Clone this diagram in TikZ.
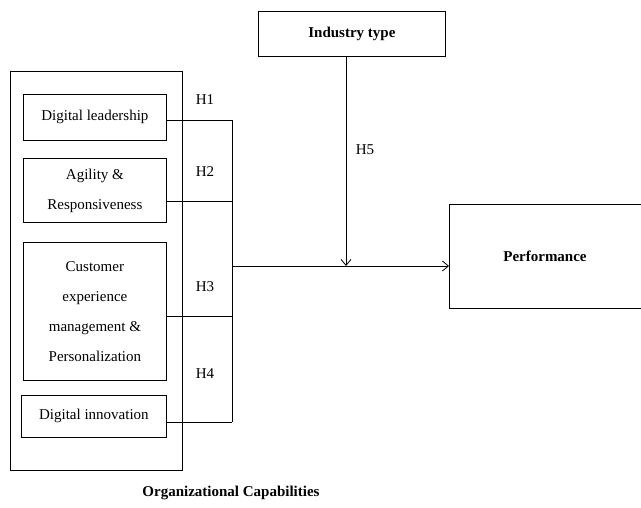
\documentclass[tikz,border=0pt]{standalone}
\usepackage{fontspec}
\setmainfont{Liberation Serif}
\usetikzlibrary{arrows.meta}
\begin{document}
\begin{tikzpicture}[x=1pt,y=-1pt,
  box/.style={draw,line width=0.8pt,inner sep=0pt,font=\fontsize{15}{30}\selectfont,align=center},
  bbox/.style={draw,line width=0.8pt,inner sep=0pt,font=\bfseries\fontsize{15}{18}\selectfont},
  lbl/.style={font=\fontsize{15}{18}\selectfont},
  conn/.style={line width=0.8pt},
  arr/.style={line width=0.8pt,-{Straight Barb[length=6pt,width=10pt]}}]
\useasboundingbox (0,0) rectangle (641,508);
\node[draw,line width=0.8pt,minimum width=172pt,minimum height=399pt,anchor=north west] (org) at (10,71) {};
\node[box,minimum width=143pt,minimum height=46pt,anchor=north west] (dl) at (23,94) {Digital leadership};
\node[box,minimum width=143pt,minimum height=64pt,anchor=north west] (ag) at (23,158) {Agility \&\\Responsiveness};
\node[box,minimum width=143pt,minimum height=138pt,anchor=north west] (cx) at (23,242) {Customer\\experience\\management \&\\Personalization};
\node[box,minimum width=145pt,minimum height=42pt,anchor=north west] (di) at (21,395) {Digital innovation};
\node[bbox,minimum width=187pt,minimum height=45pt,anchor=north west] (ind) at (258,11) {Industry type};
\node[draw,line width=0.8pt,minimum width=192pt,minimum height=104pt,anchor=north west] (perf) at (449,204) {};
\node[font=\bfseries\fontsize{15}{18}\selectfont] (perft) at (545,256) {Performance};
\coordinate (j1) at (232,120);
\coordinate (j2) at (232,201);
\coordinate (j3) at (232,316);
\coordinate (j4) at (232,422);
\coordinate (jm) at (232,266);
\coordinate (mid) at (346,266);
\draw[conn] (dl.east |- j1) -- (j1);
\draw[conn] (ag.east |- j2) -- (j2);
\draw[conn] (cx.east |- j3) -- (j3);
\draw[conn] (di.east |- j4) -- (j4);
\draw[conn] (j1) -- (j4);
\draw[arr] (jm) -- (perf.west |- jm);
\draw[arr] (ind.south -| mid) -- (mid);
\node[lbl] (h1) at (205,100) {H1};
\node[lbl] (h2) at (205,172) {H2};
\node[lbl] (h3) at (205,287) {H3};
\node[lbl] (h4) at (205,374) {H4};
\node[lbl] (h5) at (365,150) {H5};
\node[font=\bfseries\fontsize{15}{18}\selectfont] (oc) at (231,493) {Organizational Capabilities};
\end{tikzpicture}
\end{document}
